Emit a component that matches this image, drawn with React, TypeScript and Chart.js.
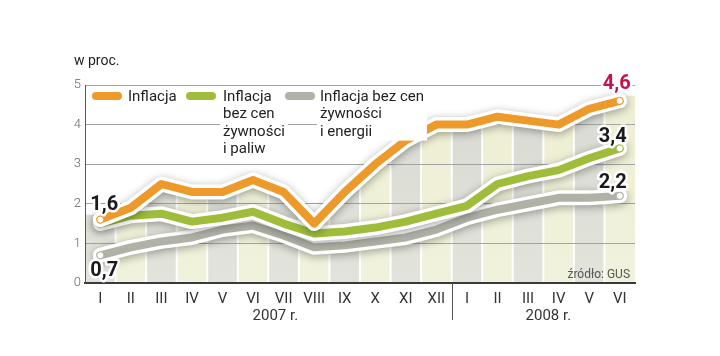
import React, { useEffect, useRef } from 'react';
import { Chart, registerables } from 'chart.js';

Chart.register(...registerables);

const months = ['I', 'II', 'III', 'IV', 'V', 'VI', 'VII', 'VIII', 'IX', 'X', 'XI', 'XII', 'I', 'II', 'III', 'IV', 'V', 'VI'];
const inflation = [1.6, 1.9, 2.5, 2.3, 2.3, 2.6, 2.3, 1.5, 2.3, 3.0, 3.6, 4.0, 4.0, 4.2, 4.1, 4.0, 4.4, 4.6];
const exFoodFuel = [1.5, 1.7, 1.75, 1.55, 1.65, 1.8, 1.5, 1.25, 1.3, 1.4, 1.55, 1.75, 1.95, 2.5, 2.7, 2.85, 3.15, 3.4];
const exFoodEnergy = [0.7, 0.9, 1.05, 1.15, 1.35, 1.45, 1.2, 0.9, 0.95, 1.05, 1.15, 1.35, 1.65, 1.85, 2.0, 2.15, 2.15, 2.2];
const yTicks = [0, 1, 2, 3, 4, 5];
const years = ['2007 r.', '2008 r.'];
const legendLines = [
  ['Inflacja'],
  ['Inflacja', 'bez cen', 'żywności', 'i paliw'],
  ['Inflacja bez cen', 'żywności', 'i energii'],
];
const seriesColors = ['#ee9a2b', '#9fbd3b', '#b0b2a7'];
const unitLabel = 'w proc.';
const sourceLabel = 'źródło: GUS';

const FONT = 'Roboto, "DejaVu Sans", sans-serif';

const fmt = (v: number) => v.toFixed(1).replace('.', ',');

const stripesPlugin = {
  id: 'stripes',
  beforeDraw(chart: any) {
    const { ctx, chartArea: a, scales } = chart;
    const x = scales.x;
    const y = scales.y;
    const n = months.length;
    const w = (a.right - a.left) / n;
    ctx.save();
    ctx.beginPath();
    ctx.moveTo(a.left, a.bottom);
    ctx.lineTo(a.left, y.getPixelForValue(inflation[0]) - 5);
    inflation.forEach((v, i) => ctx.lineTo(x.getPixelForValue(i), y.getPixelForValue(v) - 5));
    ctx.lineTo(a.right, y.getPixelForValue(inflation[n - 1]) - 5);
    ctx.lineTo(a.right, a.bottom);
    ctx.closePath();
    ctx.clip();
    for (let i = 0; i < n; i++) {
      const g = ctx.createLinearGradient(0, a.top, 0, a.bottom);
      if (i % 2 === 0) {
        g.addColorStop(0, '#d8d9d2');
        g.addColorStop(1, '#e2e3da');
      } else {
        g.addColorStop(0, '#edeed2');
        g.addColorStop(1, '#f1f2dc');
      }
      ctx.fillStyle = g;
      ctx.fillRect(a.left + i * w, a.top - 30, w, a.bottom - a.top + 30);
    }
    ctx.fillStyle = '#ffffff';
    for (let i = 1; i < n; i++) {
      ctx.fillRect(a.left + i * w - 1, a.top - 30, 2, a.bottom - a.top + 30);
    }
    ctx.restore();
  },
};

const outlinePlugin = {
  id: 'outline',
  beforeDatasetDraw(chart: any, args: any) {
    const { ctx } = chart;
    const pts = args.meta.data;
    if (!pts || !pts.length) return;
    ctx.save();
    ctx.lineJoin = 'round';
    ctx.lineCap = 'round';
    ctx.strokeStyle = '#ffffff';
    ctx.lineWidth = 15;
    ctx.shadowColor = 'rgba(0,0,0,0.35)';
    ctx.shadowBlur = 8;
    ctx.shadowOffsetY = 2;
    ctx.beginPath();
    pts.forEach((p: any, i: number) => (i === 0 ? ctx.moveTo(p.x, p.y) : ctx.lineTo(p.x, p.y)));
    ctx.stroke();
    ctx.restore();
  },
};

const overlayPlugin = {
  id: 'overlay',
  afterDraw(chart: any) {
    const { ctx, chartArea: a, scales } = chart;
    const x = scales.x;
    const y = scales.y;
    const n = months.length;
    ctx.save();

    // unit label
    ctx.font = `14px ${FONT}`;
    ctx.fillStyle = '#222';
    ctx.textAlign = 'left';
    ctx.textBaseline = 'alphabetic';
    ctx.fillText(unitLabel, 74, 65);

    // legend
    const swX = [92, 186, 285];
    const txX = [128, 223, 320];
    const base = 101;
    const lh = 17.3;
    ctx.font = `15px ${FONT}`;
    legendLines.forEach((lines, k) => {
      let maxW = 0;
      lines.forEach((l) => (maxW = Math.max(maxW, ctx.measureText(l).width)));
      ctx.fillStyle = '#ffffff';
      ctx.fillRect(txX[k] - 3, base - 14, maxW + 6, (lines.length - 1) * lh + 19);
      ctx.fillRect(swX[k] - 3, base - 12, 36, 14);
      ctx.fillStyle = seriesColors[k];
      ctx.beginPath();
      const sx = swX[k], sy = base - 9, sw = 30, sh = 8;
      ctx.moveTo(sx + sh / 2, sy);
      ctx.lineTo(sx + sw - sh / 2, sy);
      ctx.arc(sx + sw - sh / 2, sy + sh / 2, sh / 2, -Math.PI / 2, Math.PI / 2);
      ctx.lineTo(sx + sh / 2, sy + sh);
      ctx.arc(sx + sh / 2, sy + sh / 2, sh / 2, Math.PI / 2, Math.PI * 1.5);
      ctx.fill();
      ctx.fillStyle = '#222';
      lines.forEach((l, j) => ctx.fillText(l, txX[k], base + j * lh));
    });

    // value labels
    const drawVal = (text: string, cx: number, cy: number, color: string) => {
      ctx.font = `bold 20px ${FONT}`;
      ctx.textAlign = 'center';
      ctx.textBaseline = 'middle';
      ctx.lineWidth = 5;
      ctx.lineJoin = 'round';
      ctx.strokeStyle = '#ffffff';
      ctx.strokeText(text, cx, cy);
      ctx.fillStyle = color;
      ctx.fillText(text, cx, cy);
    };
    const x0 = x.getPixelForValue(0);
    const xl = x.getPixelForValue(n - 1);
    drawVal(fmt(inflation[0]), x0 + 4, y.getPixelForValue(inflation[0]) - 15, '#1a1a1a');
    drawVal(fmt(exFoodEnergy[0]), x0 + 4, y.getPixelForValue(exFoodEnergy[0]) + 16, '#1a1a1a');
    drawVal(fmt(inflation[n - 1]), xl - 3, y.getPixelForValue(inflation[n - 1]) - 17, '#c8104e');
    drawVal(fmt(exFoodFuel[n - 1]), xl - 7, y.getPixelForValue(exFoodFuel[n - 1]) - 11, '#1a1a1a');
    drawVal(fmt(exFoodEnergy[n - 1]), xl - 7, y.getPixelForValue(exFoodEnergy[n - 1]) - 13, '#1a1a1a');

    // source
    ctx.font = `12px ${FONT}`;
    ctx.fillStyle = '#555';
    ctx.textAlign = 'right';
    ctx.textBaseline = 'middle';
    ctx.fillText(sourceLabel, a.right - 5, a.bottom - 8);

    // year separator and labels
    const sepX = (x.getPixelForValue(11) + x.getPixelForValue(12)) / 2;
    ctx.strokeStyle = '#555';
    ctx.lineWidth = 1;
    ctx.beginPath();
    ctx.moveTo(Math.round(sepX) + 0.5, a.bottom);
    ctx.lineTo(Math.round(sepX) + 0.5, a.bottom + 37);
    ctx.stroke();
    ctx.font = `15px ${FONT}`;
    ctx.fillStyle = '#333';
    ctx.textAlign = 'center';
    ctx.textBaseline = 'middle';
    ctx.fillText(years[0], (x.getPixelForValue(0) + x.getPixelForValue(11)) / 2 + 7, a.bottom + 33);
    ctx.fillText(years[1], (x.getPixelForValue(12) + x.getPixelForValue(17)) / 2 + 5, a.bottom + 33);

    ctx.restore();
  },
};

export default function App() {
  const ref = useRef<HTMLCanvasElement | null>(null);
  useEffect(() => {
    document.body.style.margin = '0';
    const canvas = ref.current;
    if (!canvas) return;
    const endRadius = (ctx: any) => (ctx.dataIndex === 0 || ctx.dataIndex === months.length - 1 ? 3.5 : 0);
    const mk = (data: number[], color: string, showFirst: boolean) => ({
      data,
      borderColor: color,
      backgroundColor: color,
      borderWidth: 8,
      borderJoinStyle: 'round' as const,
      borderCapStyle: 'round' as const,
      tension: 0,
      fill: false,
      pointRadius: (ctx: any) =>
        ctx.dataIndex === months.length - 1 || (showFirst && ctx.dataIndex === 0) ? 3.5 : 0,
      pointBackgroundColor: '#ffffff',
      pointBorderColor: color,
      pointBorderWidth: 1,
      pointHoverRadius: 0,
    });
    void endRadius;
    const chart = new Chart(canvas, {
      type: 'line',
      data: {
        labels: months,
        datasets: [
          mk(inflation, seriesColors[0], true),
          mk(exFoodFuel, seriesColors[1], false),
          mk(exFoodEnergy, seriesColors[2], true),
        ],
      },
      options: {
        responsive: false,
        animation: false,
        devicePixelRatio: 1,
        layout: { padding: { top: 85, right: 85, left: 0, bottom: 0 } },
        plugins: { legend: { display: false }, tooltip: { enabled: false } },
        events: [],
        scales: {
          x: {
            type: 'category',
            offset: true,
            grid: { display: false, drawTicks: false },
            border: { display: true, color: '#3a3a3a', width: 2 },
            ticks: {
              color: '#333',
              font: { family: FONT, size: 15 },
              padding: 7,
              maxRotation: 0,
              autoSkip: false,
            },
            afterFit: (s: any) => {
              s.height = 73;
            },
          },
          y: {
            min: 0,
            max: 5,
            afterBuildTicks: (s: any) => {
              s.ticks = yTicks.map((v) => ({ value: v }));
            },
            grid: { color: '#a3a3a3', lineWidth: 1, drawTicks: false },
            border: { display: true, color: '#555', width: 1 },
            ticks: {
              color: '#666',
              font: { family: FONT, size: 13, weight: 300 as any },
              padding: 4,
              callback: (v: any) => String(v),
            },
            afterFit: (s: any) => {
              s.width = 85;
            },
          },
        },
      },
      plugins: [stripesPlugin, outlinePlugin, overlayPlugin],
    });
    return () => chart.destroy();
  }, []);
  return <canvas ref={ref} width={720} height={356} style={{ display: 'block' }} />;
}
